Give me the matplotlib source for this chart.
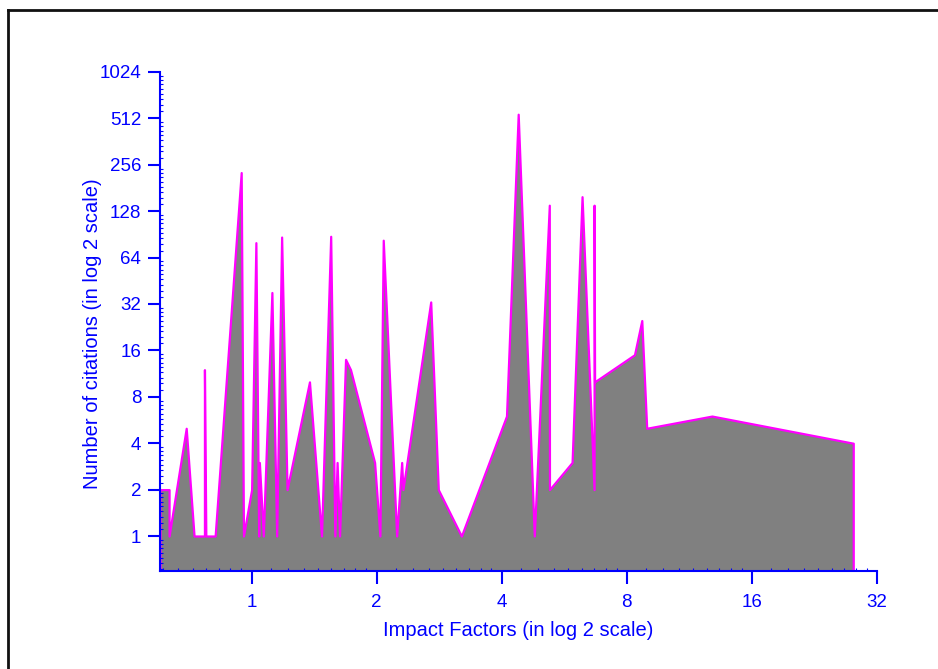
import numpy as np
import matplotlib.pyplot as plt
from matplotlib.ticker import LogLocator, FixedLocator, FixedFormatter, NullFormatter
from matplotlib.lines import Line2D

# impact factor / citation pairs, sorted by impact factor
impact = [0.602, 0.633, 0.633, 0.696, 0.727, 0.770, 0.770, 0.776, 0.817, 0.944,
          0.956, 1.0, 1.024, 1.04, 1.044, 1.067, 1.119, 1.149, 1.181, 1.217,
          1.378, 1.473, 1.55, 1.586, 1.606, 1.628, 1.683, 1.730, 1.977, 2.036,
          2.074, 2.234, 2.297, 2.313, 2.698, 2.814, 3.198, 4.106, 4.381, 4.79,
          5.205, 5.21, 5.905, 6.241, 6.671, 6.671, 6.69, 8.345, 8.69, 8.93,
          12.82, 28.05]
citations = [2, 2, 1, 5, 1, 1, 12, 1, 1, 228,
             1, 2, 80, 1, 3, 1, 38, 1, 87, 2,
             10, 1, 88, 1, 3, 1, 14, 12, 3, 1,
             83, 1, 3, 2, 33, 2, 1, 6, 545, 1,
             140, 2, 3, 159, 2, 140, 10, 15, 25, 5,
             6, 4]

xticks = [1, 2, 4, 8, 16, 32]
yticks = [1, 2, 4, 8, 16, 32, 64, 128, 256, 512, 1024]
xlim = (0.602, 32)
ylim = (0.593, 1024)

blue = '#0000ff'
plt.rcParams['font.family'] = ['Liberation Sans', 'DejaVu Sans']

fig = plt.figure(figsize=(9.38, 6.69), dpi=100)
ax = fig.add_axes([0.1706, 0.1465, 0.7644, 0.7459])

ax.fill_between(impact, ylim[0], citations, facecolor='#808080',
                edgecolor='#ff00ff', linewidth=1.6)

ax.set_xscale('log', base=2)
ax.set_yscale('log', base=2)
ax.set_xlim(*xlim)
ax.set_ylim(*ylim)

ax.xaxis.set_major_locator(FixedLocator(xticks))
ax.xaxis.set_major_formatter(FixedFormatter([str(t) for t in xticks]))
ax.yaxis.set_major_locator(FixedLocator(yticks))
ax.yaxis.set_major_formatter(FixedFormatter([str(t) for t in yticks]))
subs = 1 + np.arange(1, 9) / 9
ax.xaxis.set_minor_locator(LogLocator(base=2, subs=subs, numticks=50))
ax.yaxis.set_minor_locator(LogLocator(base=2, subs=subs, numticks=50))
ax.xaxis.set_minor_formatter(NullFormatter())
ax.yaxis.set_minor_formatter(NullFormatter())

for s in ['top', 'right']:
    ax.spines[s].set_visible(False)
for s in ['left', 'bottom']:
    ax.spines[s].set_color(blue)
    ax.spines[s].set_linewidth(1.5)

ax.tick_params(which='major', direction='out', length=9, width=1.5,
               color=blue, labelcolor=blue, labelsize=13.5)
ax.tick_params(axis='x', which='major', pad=7.5)
ax.tick_params(axis='y', which='major', pad=4.5)
ax.tick_params(which='minor', direction='in', length=2.5, width=0.8, color=blue)

ax.set_xlabel('Impact Factors (in log 2 scale)', color=blue, fontsize=14.5, labelpad=7)
ax.set_ylabel('Number of citations (in log 2 scale)', color=blue, fontsize=14.5)
ax.yaxis.set_label_coords(-0.081, 0.475)

# frame around the figure (cropped at right and bottom)
fig.add_artist(Line2D([0.009, 0.009], [0, 0.985], transform=fig.transFigure,
                      color='#111111', linewidth=2))
fig.add_artist(Line2D([0.009, 1], [0.985, 0.985], transform=fig.transFigure,
                      color='#111111', linewidth=2))

fig.savefig('out.png', dpi=100)
